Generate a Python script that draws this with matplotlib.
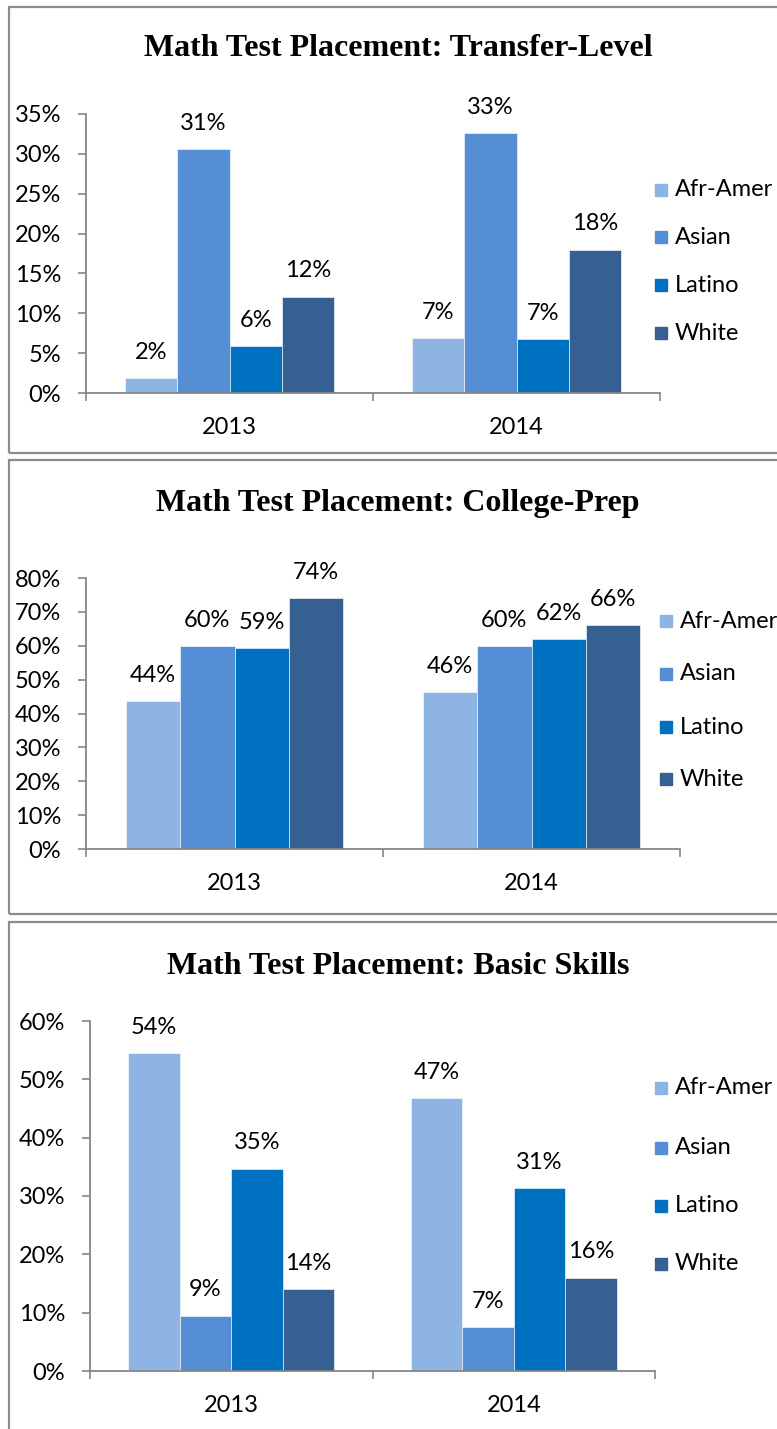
import matplotlib
matplotlib.use("Agg")
import matplotlib.pyplot as plt
from matplotlib.patches import Rectangle
import numpy as np

years = ["2013", "2014"]
groups = ["Afr-Amer", "Asian", "Latino", "White"]
colors = ["#8EB4E3", "#558ED5", "#0070C0", "#376092"]

titles = ["Math Test Placement: Transfer-Level",
          "Math Test Placement: College-Prep",
          "Math Test Placement: Basic Skills"]

transfer_afr = [1.9, 6.9]
transfer_asian = [30.6, 32.6]
transfer_latino = [5.9, 6.8]
transfer_white = [12.1, 18.0]
transfer_labels = [["2%", "7%"], ["31%", "33%"], ["6%", "7%"], ["12%", "18%"]]

prep_afr = [43.7, 46.3]
prep_asian = [60.0, 60.0]
prep_latino = [59.4, 61.9]
prep_white = [74.0, 66.0]
prep_labels = [["44%", "46%"], ["60%", "60%"], ["59%", "62%"], ["74%", "66%"]]

basic_afr = [54.5, 46.8]
basic_asian = [9.5, 7.5]
basic_latino = [34.7, 31.4]
basic_white = [14.1, 16.0]
basic_labels = [["54%", "47%"], ["9%", "7%"], ["35%", "31%"], ["14%", "16%"]]

panels = [
    dict(series=[transfer_afr, transfer_asian, transfer_latino, transfer_white],
         labels=transfer_labels, ymax=35, step=5),
    dict(series=[prep_afr, prep_asian, prep_latino, prep_white],
         labels=prep_labels, ymax=80, step=10),
    dict(series=[basic_afr, basic_asian, basic_latino, basic_white],
         labels=basic_labels, ymax=60, step=10),
]

W, H = 777, 1429
fig = plt.figure(figsize=(W / 100, H / 100), dpi=100)

def fx(px):
    return px / W

def fy(py):
    return 1 - py / H

# layout in pixels (left, right, top, bottom of plot area)
axes_px = [(86, 660, 114, 393), (86, 680, 578, 849), (90, 655, 1021, 1371)]
box_px = [(9, 7, 453), (9, 460, 914), (9, 922, 1440)]
title_y = [48, 503, 966]
legend_y = [[190, 237, 285, 333], [621, 674, 727, 779], [1088, 1148, 1206, 1264]]
legend_x = [655, 660, 655]

sans = ["Lato", "DejaVu Sans"]
serif = ["Liberation Serif", "DejaVu Serif"]
gray = "#868686"
fs = 17

for i, p in enumerate(panels):
    # panel frame
    bx, by0, by1 = box_px[i]
    fig.patches.append(Rectangle((fx(bx), fy(by1)), fx(800) - fx(bx), fy(by0) - fy(by1),
                                 transform=fig.transFigure, fill=False,
                                 edgecolor="#8c8c8c", linewidth=1.6, zorder=0))
    l, r, t, b = axes_px[i]
    ax = fig.add_axes([fx(l), fy(b), fx(r) - fx(l), fy(t) - fy(b)])
    x = np.arange(len(years))
    bw = 0.1825
    for k, (vals, col) in enumerate(zip(p["series"], colors)):
        pos = x + (k - 1.5) * bw
        ax.bar(pos, vals, width=bw, color=col, edgecolor="white", linewidth=0.4, zorder=2)
        for xx, v, lab in zip(pos, vals, p["labels"][k]):
            ax.annotate(lab, (xx, v), xytext=(0, 18.5), textcoords="offset points",
                        ha="center", va="center", fontsize=fs, family=sans, color="black")
    ax.set_xlim(-0.5, 1.5)
    ax.set_ylim(0, p["ymax"])
    ax.set_yticks(np.arange(0, p["ymax"] + 0.1, p["step"]))
    ax.set_yticklabels([f"{int(v)}%" for v in np.arange(0, p["ymax"] + 0.1, p["step"])],
                       fontsize=fs, family=sans)
    ax.set_xticks([-0.5, 0.5, 1.5])
    ax.set_xticklabels([])
    ax.set_xticks(x, minor=True)
    ax.set_xticklabels(years, minor=True, fontsize=fs, family=sans)
    ax.tick_params(axis="x", which="minor", length=0, pad=17)
    ax.tick_params(axis="x", which="major", length=6, width=1.2, color=gray, direction="out")
    ax.tick_params(axis="y", length=6, width=1.2, color=gray, direction="out", pad=12)
    for s in ["top", "right"]:
        ax.spines[s].set_visible(False)
    for s in ["left", "bottom"]:
        ax.spines[s].set_color(gray)
        ax.spines[s].set_linewidth(1.3)
    ax.set_facecolor("none")

    fig.text(fx(398), fy(title_y[i]), titles[i], ha="center", va="center",
             fontsize=23, fontweight="bold", family=serif)

    # legend
    for k, (g, col) in enumerate(zip(groups, colors)):
        yy = legend_y[i][k]
        fig.patches.append(Rectangle((fx(legend_x[i]), fy(yy + 6)), fx(12), 12 / H,
                                     transform=fig.transFigure, color=col))
        fig.text(fx(legend_x[i] + 20), fy(yy), g, ha="left", va="center",
                 fontsize=fs, family=sans)

fig.savefig("out.png", dpi=100)
